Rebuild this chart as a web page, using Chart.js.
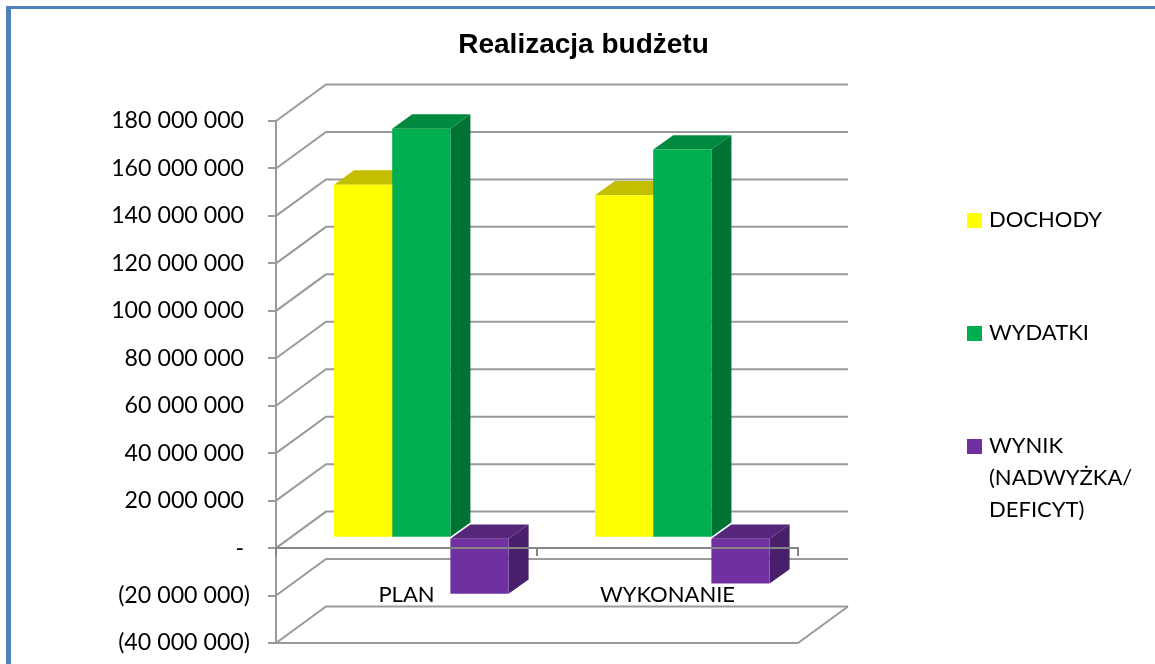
<!DOCTYPE html>
<html><head><meta charset="utf-8">
<style>html,body{margin:0;padding:0;background:#fff}canvas{display:block}</style>
<script src="https://cdn.jsdelivr.net/npm/chart.js@4"></script>
</head><body>
<div style="width:1155px;height:664px;position:relative"><canvas id="c" width="1155" height="664"></canvas></div>
<script>
const categories = ["PLAN", "WYKONANIE"];
const dochody = [148800000, 144300000];
const wydatki = [172400000, 163600000];
const wynik = [-23600000, -19300000];
const seriesNames = ["DOCHODY", "WYDATKI", ["WYNIK", "(NADWYŻKA/", "DEFICYT)"]];
const yMin = -40000000, yMax = 180000000, yStep = 20000000;

const fronts = ["#FFFF00", "#00B050", "#7030A0"];
const tops = ["#C4BE00", "#008A3F", "#55267A"];
const sides = ["#B3B300", "#007334", "#481F6B"];
const GRID = "#9A9A9A", AXIS = "#868686";
const FONT = "Lato";
const wallDx = 50, wallDy = 36.5, barDx = 14.8, barDy = 10.4, depthDx = 20, depthDy = 14.3;

function fmtTick(v) {
  if (v === 0) return "- ";
  const s = Math.abs(v).toString().replace(/\B(?=(\d{3})+$)/g, " ");
  return v < 0 ? "(" + s + ")" : s + " ";
}
function swatch(color) {
  const k = document.createElement("canvas");
  k.width = 15; k.height = 15;
  const g = k.getContext("2d");
  g.fillStyle = color; g.fillRect(0, 0, 15, 15);
  return k;
}

const scene = {
  id: "scene",
  beforeDraw(chart) {
    const { ctx, width, height } = chart;
    ctx.save();
    ctx.fillStyle = "#fff"; ctx.fillRect(0, 0, width, height);
    ctx.fillStyle = "#4F81BD";
    ctx.fillRect(6, 6, width - 6, 3);
    ctx.fillRect(6, 6, 5, height - 6);
    ctx.restore();
  },
  beforeLayout(chart) {
    Object.values(chart.scales).forEach(s => {
      s.getPadding = () => ({ left: 0, top: 0, right: 0, bottom: 0 });
    });
  },
  afterLayout(chart) {
    const t = chart.titleBlock;
    t.left = 12; t.right = 1155;
    const l = chart.legend, pad = l.options.labels.padding;
    l.left = 971 - pad; l.right = 1155;
    l.top = 209 - pad; l.bottom = 664 + pad;
  },
  beforeDatasetsDraw(chart) {
    const { ctx, chartArea: a, scales: { y } } = chart;
    ctx.save();
    ctx.strokeStyle = GRID; ctx.lineWidth = 2;
    y.ticks.forEach(t => {
      const p = y.getPixelForValue(t.value);
      ctx.beginPath();
      ctx.moveTo(a.left, p);
      ctx.lineTo(a.left + wallDx, p - wallDy);
      ctx.lineTo(a.right + wallDx, p - wallDy);
      ctx.stroke();
    });
    ctx.beginPath();
    ctx.moveTo(a.left, a.bottom);
    ctx.lineTo(a.right, a.bottom);
    ctx.lineTo(a.right + wallDx, a.bottom - wallDy);
    ctx.stroke();
    ctx.restore();

    ctx.save();
    ctx.translate(barDx, -barDy);
    chart.data.datasets.forEach((ds, i) => {
      chart.getDatasetMeta(i).data.forEach(bar => {
        const { x, y: vy, base, width } = bar.getProps(["x", "y", "base", "width"], true);
        const l = x - width / 2, r = x + width / 2, t = Math.min(vy, base), b = Math.max(vy, base);
        ctx.fillStyle = sides[i];
        ctx.beginPath();
        ctx.moveTo(r, t); ctx.lineTo(r + depthDx, t - depthDy);
        ctx.lineTo(r + depthDx, b - depthDy); ctx.lineTo(r, b);
        ctx.closePath(); ctx.fill();
        ctx.fillStyle = tops[i];
        ctx.beginPath();
        ctx.moveTo(l, t); ctx.lineTo(l + depthDx, t - depthDy);
        ctx.lineTo(r + depthDx, t - depthDy); ctx.lineTo(r, t);
        ctx.closePath(); ctx.fill();
      });
    });
    ctx.restore();

    ctx.save();
    ctx.translate(barDx, -barDy);
  },
  afterDatasetsDraw(chart) {
    chart.ctx.restore();
  }
};

new Chart(document.getElementById("c"), {
  type: "bar",
  plugins: [scene],
  data: {
    labels: categories,
    datasets: [
      { label: "DOCHODY", data: dochody, backgroundColor: fronts[0], clip: false },
      { label: "WYDATKI", data: wydatki, backgroundColor: fronts[1], clip: false },
      { label: "WYNIK (NADWYŻKA/DEFICYT)", data: wynik, backgroundColor: fronts[2], clip: false }
    ]
  },
  options: {
    responsive: false,
    animation: false,
    events: [],
    layout: { padding: { left: 12, right: 357, top: 28, bottom: 21 } },
    datasets: { bar: { categoryPercentage: 0.669, barPercentage: 1, borderWidth: 0 } },
    scales: {
      x: {
        position: { y: 0 },
        afterFit(s) { s.height = 0; },
        grid: { drawOnChartArea: false, drawTicks: true, tickLength: 7, color: AXIS, lineWidth: 2, z: 2 },
        border: { color: AXIS, width: 2, z: 2 },
        ticks: { color: "#000", font: { family: FONT, size: 22 }, padding: 27, maxRotation: 0, z: 2 }
      },
      y: {
        min: yMin, max: yMax,
        afterFit(s) { s.width = 264; },
        grid: { drawOnChartArea: false, drawTicks: true, tickLength: 8, color: GRID, lineWidth: 2 },
        border: { color: GRID, width: 2 },
        ticks: { stepSize: yStep, color: "#000", padding: 18, font: { family: FONT, size: 23.2 }, callback: fmtTick }
      }
    },
    plugins: {
      title: {
        display: true, text: "Realizacja budżetu", color: "#000",
        font: { family: "Liberation Sans", size: 28, weight: "bold", lineHeight: 1.2 },
        padding: { top: 0, bottom: 59.4 }
      },
      legend: {
        position: "chartArea", align: "start",
        labels: {
          usePointStyle: true, pointStyleWidth: 7, boxHeight: 15,
          padding: 91, color: "#000",
          font: { family: FONT, size: 22, lineHeight: 1.45 },
          generateLabels: () => seriesNames.map((n, i) => ({
            text: n, fillStyle: fronts[i], strokeStyle: fronts[i], lineWidth: 0,
            pointStyle: swatch(fronts[i]), datasetIndex: i, hidden: false
          }))
        }
      },
      tooltip: { enabled: false }
    }
  }
});
</script>
</body></html>
